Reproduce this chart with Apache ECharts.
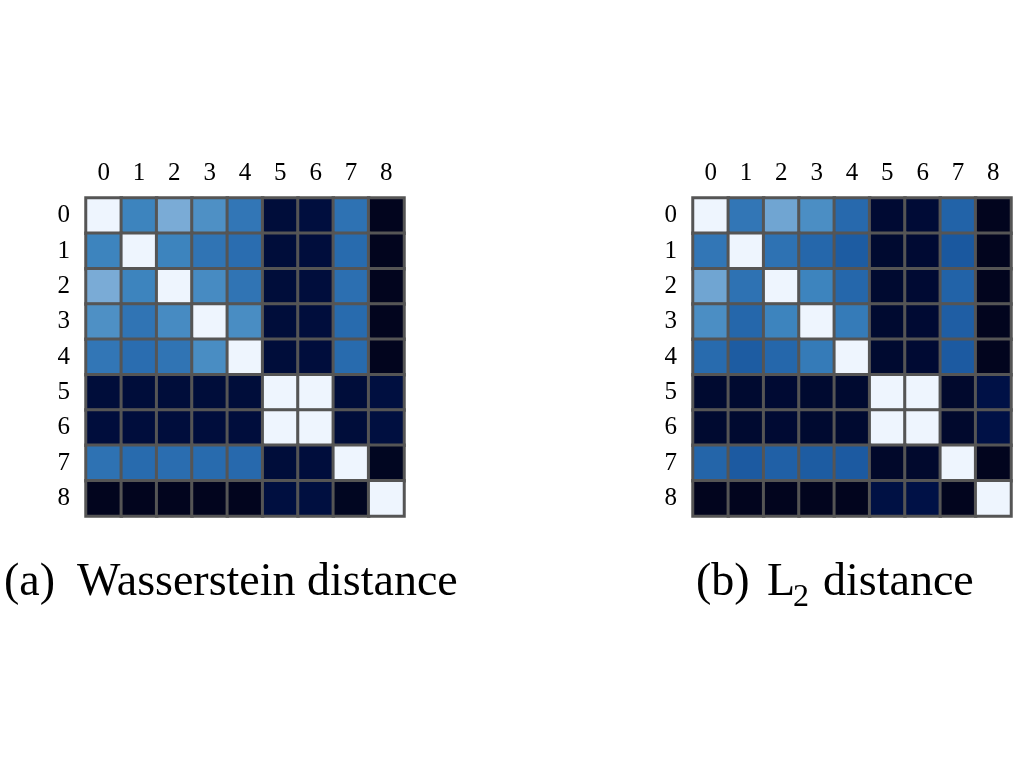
<!DOCTYPE html>
<html>
<head>
<meta charset="utf-8">
<script src="https://cdn.jsdelivr.net/npm/echarts@6/dist/echarts.min.js"></script>
<style>
html,body{margin:0;padding:0;background:#fff;}
#chart{width:1024px;height:768px;}
</style>
</head>
<body>
<div id="chart"></div>
<script>
// Class labels (tick labels on both axes)
const classes = ['0','1','2','3','4','5','6','7','8'];

// Similarity (1 = white, 0 = darkest)
const wassersteinRows = [
  [1.00, 0.70, 0.87, 0.77, 0.64, 0.12, 0.14, 0.62, 0.02],
  [0.70, 1.00, 0.70, 0.63, 0.60, 0.12, 0.13, 0.59, 0.02],
  [0.87, 0.70, 1.00, 0.74, 0.63, 0.12, 0.13, 0.61, 0.02],
  [0.77, 0.63, 0.74, 1.00, 0.75, 0.12, 0.13, 0.59, 0.02],
  [0.64, 0.60, 0.63, 0.75, 1.00, 0.12, 0.13, 0.59, 0.02],
  [0.12, 0.12, 0.12, 0.12, 0.12, 1.00, 1.00, 0.12, 0.15],
  [0.13, 0.13, 0.13, 0.13, 0.13, 1.00, 1.00, 0.12, 0.15],
  [0.62, 0.59, 0.60, 0.59, 0.58, 0.12, 0.13, 1.00, 0.03],
  [0.02, 0.02, 0.02, 0.02, 0.02, 0.15, 0.15, 0.03, 1.00]
];

const l2Rows = [
  [1.00, 0.64, 0.85, 0.76, 0.58, 0.09, 0.10, 0.55, 0.02],
  [0.64, 1.00, 0.62, 0.57, 0.52, 0.08, 0.09, 0.50, 0.02],
  [0.85, 0.62, 1.00, 0.70, 0.57, 0.08, 0.09, 0.55, 0.02],
  [0.76, 0.57, 0.70, 1.00, 0.66, 0.08, 0.09, 0.53, 0.02],
  [0.59, 0.52, 0.57, 0.66, 1.00, 0.08, 0.09, 0.51, 0.02],
  [0.08, 0.08, 0.09, 0.08, 0.08, 1.00, 1.00, 0.07, 0.18],
  [0.08, 0.08, 0.09, 0.08, 0.08, 1.00, 1.00, 0.07, 0.18],
  [0.56, 0.51, 0.54, 0.52, 0.51, 0.06, 0.07, 1.00, 0.02],
  [0.02, 0.02, 0.02, 0.02, 0.02, 0.17, 0.18, 0.02, 1.00]
];

// Colour ramp, one stop per 0.1 of similarity
const rampColors = ['#020418', '#000b36', '#00134a', '#062a66', '#0f4385', '#1a589f',
                    '#2a6db0', '#3d84be', '#5595c8', '#8ab5dc', '#eef5fe'];

function toCells(rows) {
  const out = [];
  rows.forEach((row, r) => row.forEach((v, c) => out.push([c, r, v])));
  return out;
}

const serif = 'Liberation Serif';
const chart = echarts.init(document.getElementById('chart'));

function xAx(gi) {
  return {
    type: 'category', data: classes, gridIndex: gi, position: 'top',
    axisLine: {show: false}, axisTick: {show: false}, splitLine: {show: false},
    axisLabel: {fontFamily: serif, fontSize: 25, color: '#000', margin: 12}
  };
}
function yAx(gi) {
  return {
    type: 'category', data: classes, gridIndex: gi, inverse: true,
    axisLine: {show: false}, axisTick: {show: false}, splitLine: {show: false},
    axisLabel: {fontFamily: serif, fontSize: 25, color: '#000', margin: 16}
  };
}
const cellStyle = {borderColor: '#555555', borderWidth: 3};
const capFont = '46px "Liberation Serif"';

chart.setOption({
  animation: false,
  backgroundColor: '#fff',
  grid: [
    {left: 86, top: 198, width: 318, height: 318},
    {left: 693, top: 198, width: 318, height: 318}
  ],
  xAxis: [xAx(0), xAx(1)],
  yAxis: [yAx(0), yAx(1)],
  visualMap: {
    show: false, type: 'continuous', min: 0, max: 1, seriesIndex: [0, 1], dimension: 2,
    inRange: {color: rampColors}
  },
  series: [
    {type: 'heatmap', xAxisIndex: 0, yAxisIndex: 0, data: toCells(wassersteinRows), itemStyle: cellStyle},
    {type: 'heatmap', xAxisIndex: 1, yAxisIndex: 1, data: toCells(l2Rows), itemStyle: cellStyle}
  ],
  graphic: [
    {type: 'text', left: 4, top: 560, style: {text: '(a)', font: capFont, fill: '#000'}},
    {type: 'text', left: 77, top: 560, style: {text: 'Wasserstein distance', font: capFont, fill: '#000'}},
    {type: 'text', left: 696, top: 560, style: {text: '(b)', font: capFont, fill: '#000'}},
    {type: 'text', left: 767, top: 560, style: {text: 'L', font: capFont, fill: '#000'}},
    {type: 'text', left: 793, top: 582, style: {text: '2', font: '32px "Liberation Serif"', fill: '#000'}},
    {type: 'text', left: 823, top: 560, style: {text: 'distance', font: capFont, fill: '#000'}}
  ]
});
</script>
</body>
</html>
